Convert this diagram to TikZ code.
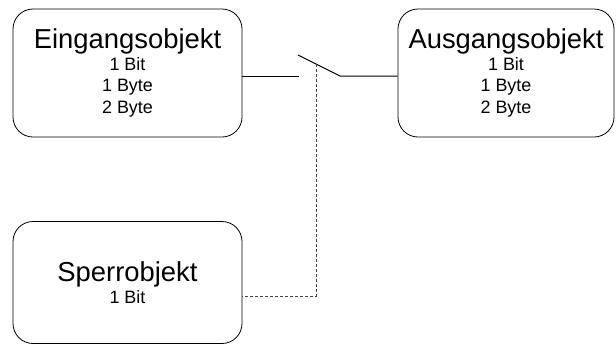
\documentclass[tikz,border=0pt]{standalone}
\usepackage{fontspec}
\setmainfont{Liberation Sans}
\begin{document}
\begin{tikzpicture}[x=1bp, y=-1bp, font=\fontsize{18}{21.5}\selectfont,
          obj/.style={draw, line width=0.8bp, rounded corners=20bp, align=center, inner sep=0pt},
          big/.style={font=\fontsize{27.5}{30}\selectfont},
          ln/.style={line width=1bp},
          dsh/.style={line width=0.8bp, black!75, dash pattern=on 3bp off 2bp}]
        \useasboundingbox (0,0) rectangle (616,345);
        \node[obj, minimum width=229bp, minimum height=128bp] (ein) at (127.5,73)
          {{\fontsize{27.5}{30}\selectfont Eingangsobjekt}\\1 Bit\\1 Byte\\2 Byte};
        \node[obj, minimum width=216bp, minimum height=128bp] (aus) at (506,73)
          {{\fontsize{27.5}{30}\selectfont Ausgangsobjekt}\\1 Bit\\1 Byte\\2 Byte};
        \node[obj, minimum width=229bp, minimum height=122bp] (sperr) at (127.5,282.5)
          {{\fontsize{27.5}{30}\selectfont Sperrobjekt}\\1 Bit};
        % schalter
        \coordinate (s1) at (299,76);
        \coordinate (s2) at (298,55);
        \coordinate (s3) at (340,76);
        \coordinate (sm) at (316,64);
        \coordinate (kn) at (316,296);
        \draw[ln] (ein.east |- s1) -- (s1);
        \draw[ln] (s2) -- (s3) -- (aus.west |- s3);
        \draw[dsh] (sm) -- (kn) -- (sperr.east |- kn);
      \end{tikzpicture}
\end{document}
